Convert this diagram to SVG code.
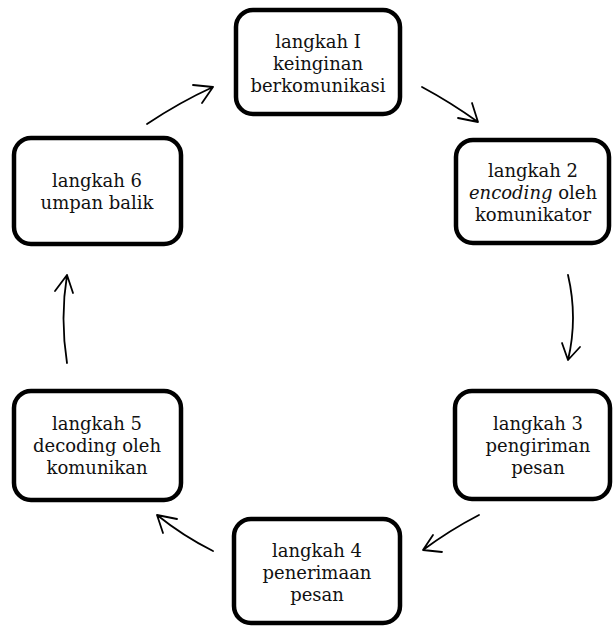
<svg xmlns="http://www.w3.org/2000/svg" width="614" height="628" viewBox="0 0 614 628">
<style>
.box{fill:#fff;stroke:#000;stroke-width:4.5}
.t{font-family:"DejaVu Serif","Liberation Serif",serif;font-size:18px;fill:#111;text-anchor:middle}
.c{fill:none;stroke:#000;stroke-width:1.8;stroke-linecap:round;stroke-linejoin:round}
</style>
<rect width="614" height="628" fill="#fff"/>
<g id="node1"><rect class="box" x="236" y="10" width="164" height="104" rx="17"/>
<text class="t" x="318" y="48">langkah I</text><text class="t" x="318" y="70">keinginan</text><text class="t" x="318" y="92">berkomunikasi</text></g>
<g id="node2"><rect class="box" x="456" y="140" width="153" height="103" rx="17"/>
<text class="t" x="533" y="177">langkah 2</text><text class="t" x="533" y="199"><tspan font-style="italic">encoding</tspan> oleh</text><text class="t" x="533" y="221">komunikator</text></g>
<g id="node3"><rect class="box" x="455" y="391" width="155" height="108" rx="17"/>
<text class="t" x="538" y="430">langkah 3</text><text class="t" x="538" y="452">pengiriman</text><text class="t" x="538" y="474">pesan</text></g>
<g id="node4"><rect class="box" x="234" y="519" width="166" height="104" rx="17"/>
<text class="t" x="317" y="557">langkah 4</text><text class="t" x="317" y="579">penerimaan</text><text class="t" x="317" y="601">pesan</text></g>
<g id="node5"><rect class="box" x="14" y="391" width="167" height="109" rx="17"/>
<text class="t" x="97" y="430">langkah 5</text><text class="t" x="97" y="452">decoding oleh</text><text class="t" x="97" y="474">komunikan</text></g>
<g id="node6"><rect class="box" x="14" y="138" width="167" height="106" rx="17"/>
<text class="t" x="97" y="187">langkah 6</text><text class="t" x="97" y="209">umpan balik</text></g>
<g id="connectors">
<path class="c" d="M422,87 Q450,102 478,122 M472,103 L478,122 L458,118"/>
<path class="c" d="M568,275 Q578,318 568,360 M562,343 L568,360 L580,347"/>
<path class="c" d="M479,515 Q450,530 423,550 M433,535 L423,550 L442,552"/>
<path class="c" d="M213,551 Q183,536 157,515 M177,519 L157,515 L163,533"/>
<path class="c" d="M67,363 Q60,318 67,275 M55,291 L67,275 L73,293"/>
<path class="c" d="M147,124 Q180,102 213,87 M193,85 L213,87 L202,103"/>
</g>
</svg>
